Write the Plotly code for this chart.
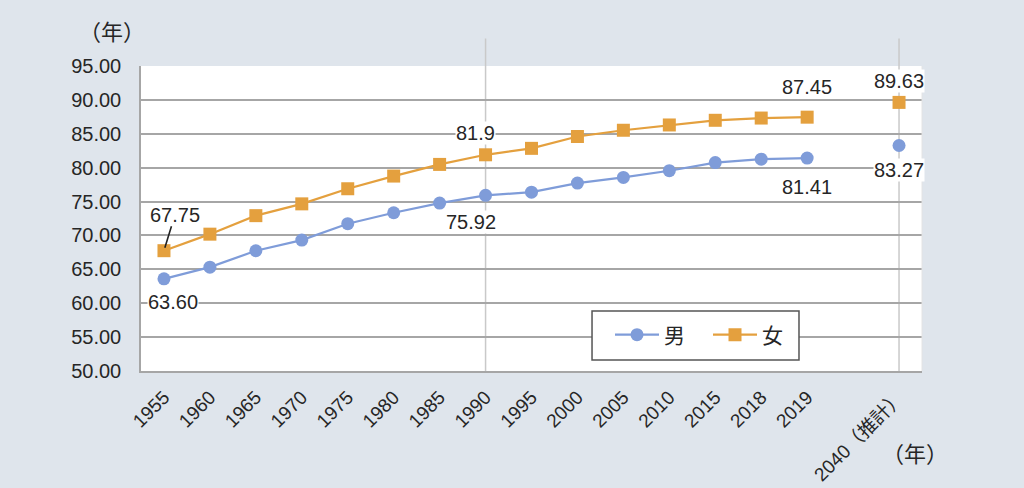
import plotly.graph_objects as go

years = ["1955", "1960", "1965", "1970", "1975", "1980", "1985", "1990", "1995",
         "2000", "2005", "2010", "2015", "2018", "2019"]
proj_label = "2040（推計）"
male = [63.60, 65.32, 67.74, 69.31, 71.73, 73.35, 74.78, 75.92, 76.38,
        77.72, 78.56, 79.55, 80.75, 81.25, 81.41]
female = [67.75, 70.19, 72.92, 74.66, 76.89, 78.76, 80.48, 81.90, 82.85,
          84.60, 85.52, 86.30, 86.99, 87.32, 87.45]
male_proj = 83.27
female_proj = 89.63
y_ticks = [50, 55, 60, 65, 70, 75, 80, 85, 90, 95]

MALE_C = "#7f9cd9"
FEMALE_C = "#e4a03e"
FONT = "Liberation Sans, Noto Sans CJK JP, sans-serif"
CJK = "Noto Sans CJK JP, sans-serif"
TXT = "#262626"

xs = list(range(len(years)))
x_proj = len(years) + 1  # one blank category before the projection

fig = go.Figure()
fig.add_trace(go.Scatter(x=xs, y=male, mode="lines+markers", name="男",
                         line=dict(color=MALE_C, width=2.2),
                         marker=dict(symbol="circle", size=13, color=MALE_C)))
fig.add_trace(go.Scatter(x=xs, y=female, mode="lines+markers", name="女",
                         line=dict(color=FEMALE_C, width=2.2),
                         marker=dict(symbol="square", size=13, color=FEMALE_C)))
fig.add_trace(go.Scatter(x=[x_proj], y=[male_proj], mode="markers", showlegend=False,
                         marker=dict(symbol="circle", size=13, color=MALE_C)))
fig.add_trace(go.Scatter(x=[x_proj], y=[female_proj], mode="markers", showlegend=False,
                         marker=dict(symbol="square", size=13, color=FEMALE_C)))

# vertical reference lines at 1990 and 2040
for xv in [years.index("1990"), x_proj]:
    fig.add_shape(type="line", xref="x", yref="paper", x0=xv, x1=xv, y0=0, y1=1.09,
                  line=dict(color="#c9c9c9", width=1.5), layer="below")

# legend frame
fig.add_shape(type="rect", xref="paper", yref="paper", x0=0.5775, x1=0.8425,
              y0=0.036, y1=0.197, fillcolor="white",
              line=dict(color="#555555", width=1.5), layer="above")

lab_font = dict(family=FONT, size=20, color=TXT)


def lab(x, y, text, xs_=0, ys_=0):
    fig.add_annotation(x=x, y=y, text=text, showarrow=False, xshift=xs_, yshift=ys_,
                       font=lab_font, bgcolor="white", borderpad=0)


lab(0, male[0], f"{male[0]:.2f}", 9, -23)
lab(years.index("1990"), male[7], f"{male[7]:.2f}", -15, -27)
lab(years.index("1990"), female[7], "81.9", -10, 22)
lab(len(years) - 1, female[-1], f"{female[-1]:.2f}", 0, 30)
lab(len(years) - 1, male[-1], f"{male[-1]:.2f}", 0, -29)
lab(x_proj, female_proj, f"{female_proj:.2f}", 0, 21)
lab(x_proj, male_proj, f"{male_proj:.2f}", 0, -24)
fig.add_annotation(x=0, y=female[0], text=f"{female[0]:.2f}", showarrow=True,
                   ax=11, ay=-36, arrowhead=0, arrowwidth=1.6, arrowcolor="#222",
                   standoff=3, font=lab_font, bgcolor="white", borderpad=0)

# unit labels
fig.add_annotation(xref="paper", yref="paper", x=0.008, y=1.118, text="（年）",
                   showarrow=False, xanchor="right", yanchor="middle",
                   font=dict(family=CJK, size=22, color=TXT))
fig.add_annotation(xref="paper", yref="paper", x=0.991, y=-0.266, text="（年）",
                   showarrow=False, xanchor="center", yanchor="middle",
                   font=dict(family=CJK, size=22, color=TXT))

fig.update_layout(
    width=1024, height=488,
    margin=dict(l=141, r=102, t=66, b=117),
    paper_bgcolor="#dfe5ec", plot_bgcolor="white",
    font=dict(family=FONT, color=TXT),
    showlegend=True,
    legend=dict(orientation="h", x=0.726, y=0.118, xanchor="center", yanchor="middle",
                bgcolor="rgba(0,0,0,0)", borderwidth=0,
                font=dict(family=CJK, size=21, color=TXT),
                itemwidth=44, entrywidth=39, tracegroupgap=0),
    xaxis=dict(range=[-0.5, x_proj + 0.5], tickmode="array",
               tickvals=xs + [x_proj], ticktext=years + [proj_label],
               tickangle=-45, tickfont=dict(family=FONT, size=19, color=TXT),
               showgrid=False, zeroline=False, showline=True, linecolor="#a6a6a6",
               linewidth=1.5, ticks="", ticklabelstandoff=6, mirror=False,
               automargin=False),
    yaxis=dict(range=[50, 95], tickmode="array", tickvals=y_ticks,
               ticktext=[f"{v:.2f}" for v in y_ticks],
               tickfont=dict(family=FONT, size=20, color=TXT),
               showgrid=True, gridcolor="#a6a6a6", gridwidth=1.5, zeroline=False,
               showline=True, linecolor="#a6a6a6", linewidth=1.5, ticks="",
               ticklabelstandoff=14, automargin=False),
)
fig.add_shape(type="line", xref="paper", yref="paper", x0=1, x1=1, y0=0, y1=1,
              line=dict(color="#e4e4e4", width=1))

fig.write_html("out.html", config={"displayModeBar": False},
               post_script="document.body.style.margin='0';")
